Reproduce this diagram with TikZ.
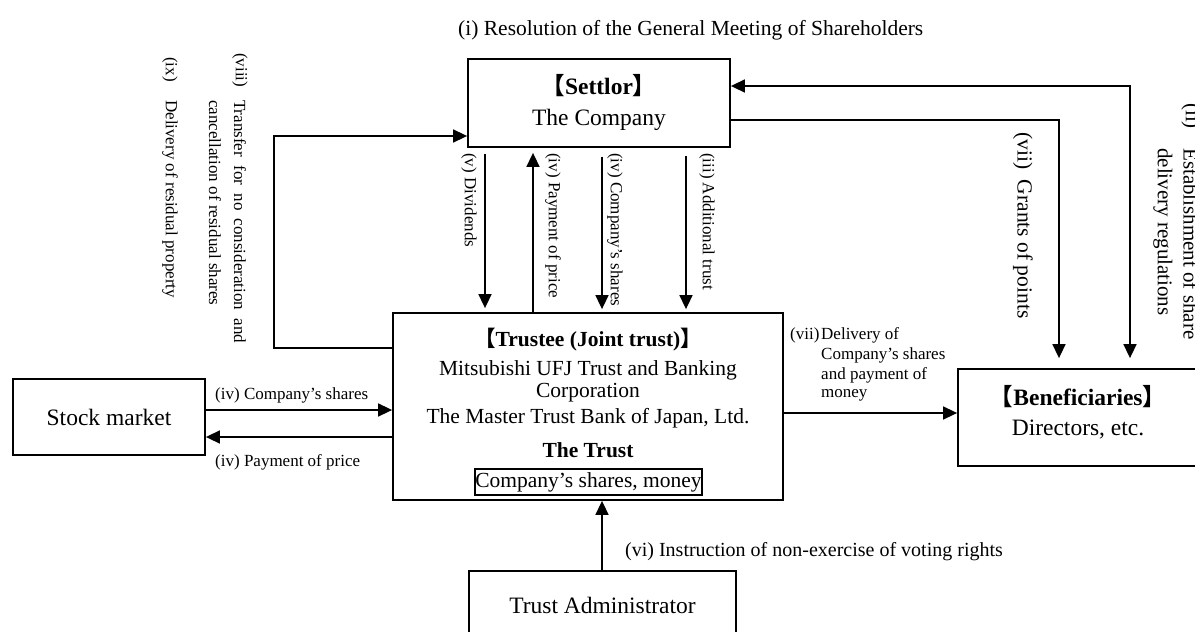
\documentclass[tikz,border=0pt]{standalone}
\usepackage{fontspec}
\setmainfont{Liberation Serif}
\newfontfamily\cjk{Noto Sans CJK JP}
\usetikzlibrary{arrows.meta}
\newcommand{\lbr}{{\cjk\bfseries 【}}
\newcommand{\rbr}{{\cjk\bfseries 】}}
\begin{document}
\begin{tikzpicture}[x=1pt,y=-1pt,
  box/.style={draw, line width=1.8pt, inner sep=0pt},
  tip/.tip={Triangle[length=14pt,width=13pt]},
  arr/.style={line width=1.6pt, -tip},
  txt/.style={inner sep=0pt},
  fA/.style={font=\fontsize{23.5}{28}\selectfont},
  fB/.style={font=\fontsize{21.5}{26}\selectfont},
  fC/.style={font=\fontsize{17}{20}\selectfont},
  fD/.style={font=\fontsize{20}{24}\selectfont},
  rot/.style={rotate=-90, anchor=west, inner sep=0pt},
]
\clip (0,0) rectangle (1195,632);
\fill[white] (0,0) rectangle (1195,632);

% boxes
\node[box, minimum width=262pt, minimum height=88pt] (settlor) at (599,103) {};
\node[box, minimum width=390pt, minimum height=187pt] (trustee) at (588,406.5) {};
\node[box, minimum width=192pt, minimum height=76pt] (stock) at (109,417) {};
\node[box, minimum width=257pt, minimum height=97pt] (benef) at (1086.5,417.5) {};
\node[box, minimum width=267pt, minimum height=89pt] (admin) at (602.5,615.5) {};
\node[box, line width=1.5pt, fB, minimum width=227pt, minimum height=26pt] (inner) at (588.5,482) {Company’s shares, money};

% box texts
\node[txt, fA] (s1) at (599,86) {\lbr\textbf{Settlor}\rbr};
\node[txt, fA] (s2) at (599,120) {The Company};
\node[txt, fB] (t1) at (588,340) {\lbr\textbf{Trustee (Joint trust)}\rbr};
\node[txt, fB] (t2) at (588,370) {Mitsubishi UFJ Trust and Banking};
\node[txt, fB] (t3) at (588,393) {Corporation};
\node[txt, fB] (t4) at (588,418) {The Master Trust Bank of Japan, Ltd.};
\node[txt, fB] (t5) at (588,450) {\textbf{The Trust}};
\node[txt, fA] (b1) at (1078,397) {\lbr\textbf{Beneficiaries}\rbr};
\node[txt, fA] (b2) at (1078,430) {Directors, etc.};
\node[txt, fA] (sm) at (109,417) {Stock market};
\node[txt, fA] (ad) at (602.5,605) {Trust Administrator};

% title
\node[txt, fB, anchor=west] (title) at (458,30) {(i) Resolution of the General Meeting of Shareholders};

% column coordinates
\coordinate (cA) at (485,0);
\coordinate (cB) at (533,0);
\coordinate (cC) at (602,0);
\coordinate (cD) at (686,0);
\coordinate (l1) at (274,348);
\coordinate (l2) at (274,136);
\coordinate (r1) at (1059,120);
\coordinate (r2) at (1130,86);
\coordinate (h1) at (0,410);
\coordinate (h2) at (0,437);
\coordinate (h3) at (0,413);

% settlor <-> trustee
\draw[arr, shorten <=6pt, shorten >=4pt] (settlor.south -| cA) -- (trustee.north -| cA);
\draw[arr, shorten >=5pt] (trustee.north -| cB) -- (settlor.south -| cB);
\draw[arr, shorten <=9pt, shorten >=3pt] (settlor.south -| cC) -- (trustee.north -| cC);
\draw[arr, shorten <=8pt, shorten >=3pt] (settlor.south -| cD) -- (trustee.north -| cD);

\node[rot, fC] (lv) at (469,153) {(v) Dividends};
\node[rot, fC] (liv1) at (553,153) {(iv) Payment of price};
\node[rot, fC] (liv2) at (615,153) {(iv) Company’s shares};
\node[rot, fC] (liii) at (707,153) {(iii) Additional trust};

% loop
\draw[arr] (trustee.west |- l1) -- (l1) -- (l2) -- (settlor.west |- l2);
\node[rot, fC] (lviiia) at (240,53) {(viii)};
\node[rot, fC] (lviiib) at (240,100) {\makebox[243pt][s]{Transfer for no consideration and}};
\node[rot, fC] (lviiic) at (215,100) {cancellation of residual shares};
\node[rot, fC] (lixa) at (170,57) {(ix)};
\node[rot, fC] (lixb) at (170,100) {Delivery of residual property};

% right side
\draw[arr, shorten >=10pt] (settlor.east |- r1) -- (r1) -- (benef.north -| r1);
\draw[line width=1.6pt, tip-tip, shorten >=10pt] (settlor.east |- r2) -- (r2) -- (benef.north -| r2);
\node[rot, font=\fontsize{21.5}{26}\selectfont] (lvii) at (1023,132) {(vii)\enspace Grants of points};
\node[rot, font=\fontsize{21}{25}\selectfont] (liia) at (1191,103) {(ii)};
\node[rot, font=\fontsize{21}{25}\selectfont] (liib) at (1191,148) {Establishment of share};
\node[rot, font=\fontsize{21}{25}\selectfont] (liic) at (1163,148) {delivery regulations};

% stock market
\draw[arr] (stock.east |- h1) -- (trustee.west |- h1);
\draw[arr] (trustee.west |- h2) -- (stock.east |- h2);
\node[txt, fC, anchor=west] (lsm1) at (215,395) {(iv) Company’s shares};
\node[txt, fC, anchor=west] (lsm2) at (215,462) {(iv) Payment of price};

% beneficiaries
\draw[arr] (trustee.east |- h3) -- (benef.west |- h3);
\node[txt, fC, anchor=west] (ld0) at (790,335) {(vii)};
\node[txt, fC, anchor=west] (ld1) at (821,335) {Delivery of};
\node[txt, fC, anchor=west] (ld2) at (821,355) {Company’s shares};
\node[txt, fC, anchor=west] (ld3) at (821,375) {and payment of};
\node[txt, fC, anchor=west] (ld4) at (821,395) {money};

% administrator
\draw[arr] (admin.north -| cC) -- (trustee.south -| cC);
\node[txt, fD, anchor=west] (lvi) at (625,552) {(vi) Instruction of non-exercise of voting rights};
\end{tikzpicture}
\end{document}
